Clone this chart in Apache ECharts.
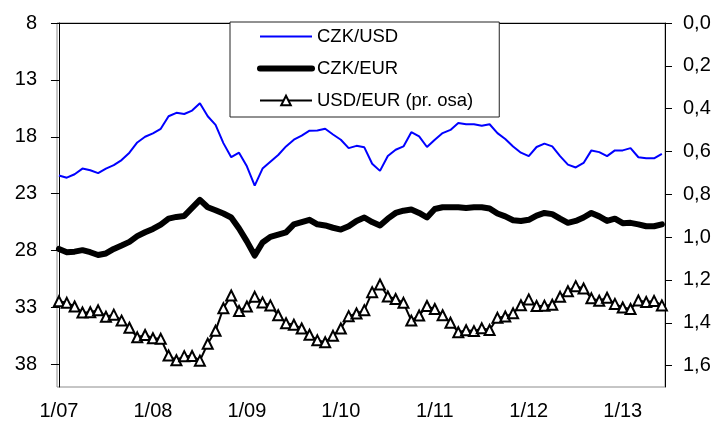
<!DOCTYPE html>
<html>
<head>
<meta charset="utf-8">
<script src="https://cdn.jsdelivr.net/npm/echarts@6.0.0/dist/echarts.min.js"></script>
<style>
  html, body { margin: 0; padding: 0; background: #fff; }
  #chart { width: 715px; height: 421px; }
</style>
</head>
<body>
<div id="chart"></div>
<script>
// monthly values, 1/2007 .. 6/2013
const czkUsd = [
  21.4, 21.6, 21.3, 20.8, 20.95, 21.2, 20.8, 20.5, 20.05, 19.4, 18.5, 18.0,
  17.7, 17.3, 16.2, 15.9, 16.0, 15.7, 15.05, 16.2, 16.95, 18.56, 19.8, 19.4,
  20.6, 22.3, 20.8, 20.2, 19.6, 18.85, 18.26, 17.9, 17.47, 17.45, 17.3, 17.8,
  18.26, 19.0, 18.8, 18.93, 20.37, 21.0, 19.7, 19.14, 18.85, 17.6, 17.97, 18.9,
  18.26, 17.68, 17.4, 16.8, 16.9, 16.9, 17.04, 16.9, 17.68, 18.2, 18.85, 19.4,
  19.7, 18.9, 18.6, 18.85, 19.7, 20.45, 20.7, 20.3, 19.2, 19.35, 19.7, 19.2,
  19.2, 19.0, 19.8, 19.9, 19.9, 19.5
];
const czkEur = [
  27.86, 28.15, 28.1, 27.97, 28.15, 28.4, 28.26, 27.86, 27.56, 27.24, 26.74, 26.4,
  26.1, 25.72, 25.2, 25.05, 24.96, 24.26, 23.55, 24.2, 24.46, 24.75, 25.1, 26.07,
  27.2, 28.44, 27.3, 26.8, 26.6, 26.4, 25.7, 25.5, 25.3, 25.7, 25.8, 26.0,
  26.16, 25.87, 25.4, 25.1, 25.5, 25.8, 25.2, 24.7, 24.5, 24.4, 24.7, 25.1,
  24.35, 24.2, 24.2, 24.2, 24.26, 24.2, 24.2, 24.3, 24.75, 25.0, 25.34, 25.4,
  25.3, 24.93, 24.7, 24.8, 25.2, 25.57, 25.4, 25.1, 24.7, 25.0, 25.4, 25.2,
  25.6, 25.57, 25.7, 25.87, 25.87, 25.7
];
const usdEur = [
  1.300, 1.307, 1.324, 1.352, 1.351, 1.342, 1.372, 1.362, 1.390, 1.423, 1.468, 1.457,
  1.472, 1.475, 1.553, 1.575, 1.556, 1.555, 1.577, 1.498, 1.437, 1.332, 1.273, 1.345,
  1.324, 1.279, 1.305, 1.319, 1.365, 1.402, 1.409, 1.427, 1.456, 1.482, 1.491, 1.461,
  1.427, 1.369, 1.357, 1.341, 1.257, 1.221, 1.277, 1.289, 1.307, 1.390, 1.366, 1.322,
  1.336, 1.365, 1.400, 1.444, 1.435, 1.439, 1.426, 1.434, 1.377, 1.371, 1.356, 1.318,
  1.291, 1.322, 1.320, 1.316, 1.279, 1.253, 1.229, 1.240, 1.286, 1.297, 1.283, 1.312,
  1.329, 1.336, 1.296, 1.303, 1.298, 1.319
];
const xLabels = ["1/07", "1/08", "1/09", "1/10", "1/11", "1/12", "1/13"];
const leftTicks = [8, 13, 18, 23, 28, 33, 38];
const rightTicks = [0, 0.2, 0.4, 0.6, 0.8, 1.0, 1.2, 1.4, 1.6];

window.addEventListener("load", function () {
  const chart = echarts.init(document.getElementById("chart"));
  const font = "Liberation Sans";
  const pairs = (arr) => arr.map((v, i) => [i, v]);
  const xTickPos = xLabels.map((l, i) => i * 12);

  const option = {
    animation: false,
    textStyle: { fontFamily: font },
    grid: {
      left: 57, right: 50, top: 23, bottom: 34,
      show: true, borderColor: "#8c8c8c", borderWidth: 1
    },
    legend: {
      orient: "vertical",
      left: 230,
      top: 22,
      padding: [5, 26, 7, 27],
      itemWidth: 52,
      itemHeight: 12,
      itemGap: 13,
      borderColor: "#222",
      borderWidth: 1,
      backgroundColor: "#fff",
      textStyle: { fontFamily: font, fontSize: 18.5, color: "#000", lineHeight: 18 },
      data: [
        { name: "CZK/USD", itemStyle: { opacity: 0 }, lineStyle: { width: 2 } },
        { name: "CZK/EUR", itemStyle: { opacity: 0 }, lineStyle: { width: 6, cap: "round" } },
        { name: "USD/EUR (pr. osa)", lineStyle: { width: 2 } }
      ]
    },
    xAxis: {
      type: "value",
      min: -0.25,
      max: 77.4,
      splitLine: { show: false },
      axisLine: { lineStyle: { color: "#000", width: 1 } },
      axisTick: { show: false },
      axisLabel: {
        customValues: xTickPos,
        margin: 14,
        fontSize: 20,
        color: "#000",
        fontFamily: font,
        formatter: (v) => xLabels[Math.round(v / 12)]
      }
    },
    yAxis: [
      {
        type: "value",
        inverse: true,
        min: 8,
        max: 40,
        splitLine: { show: false },
        axisLine: { show: true, lineStyle: { color: "#000", width: 1 } },
        axisTick: { show: true, customValues: leftTicks, length: 8, lineStyle: { color: "#000" } },
        axisLabel: {
          customValues: leftTicks,
          margin: 20,
          fontSize: 20,
          color: "#000",
          fontFamily: font
        }
      },
      {
        type: "value",
        position: "right",
        inverse: true,
        min: 0,
        max: 1.7,
        splitLine: { show: false },
        axisLine: { show: true, lineStyle: { color: "#000", width: 1 } },
        axisTick: { show: true, customValues: rightTicks, length: 7, lineStyle: { color: "#000" } },
        axisLabel: {
          customValues: rightTicks,
          margin: 18,
          fontSize: 20,
          color: "#000",
          fontFamily: font,
          formatter: (v) => v.toFixed(1).replace(".", ",")
        }
      }
    ],
    series: [
      {
        name: "CZK/USD",
        type: "line",
        yAxisIndex: 0,
        data: pairs(czkUsd),
        symbol: "none",
        color: "#0000ff",
        lineStyle: { color: "#0000ff", width: 2 }
      },
      {
        name: "CZK/EUR",
        type: "line",
        yAxisIndex: 0,
        data: pairs(czkEur),
        symbol: "none",
        color: "#000",
        lineStyle: { color: "#000", width: 6, cap: "round", join: "round" }
      },
      {
        name: "USD/EUR (pr. osa)",
        type: "line",
        yAxisIndex: 1,
        data: pairs(usdEur),
        symbol: "triangle",
        symbolSize: 10,
        showAllSymbol: true,
        color: "#000",
        lineStyle: { color: "#000", width: 2 },
        itemStyle: { color: "#fff", borderColor: "#000", borderWidth: 2 }
      }
    ]
  };
  chart.setOption(option);
});
</script>
</body>
</html>
